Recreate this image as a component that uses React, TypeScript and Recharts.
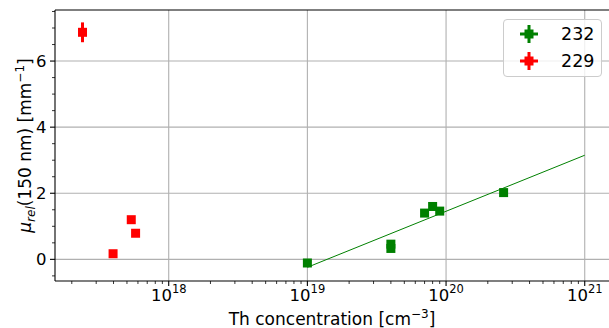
import React from "react"
import {
  ScatterChart,
  Scatter,
  XAxis,
  YAxis,
  ErrorBar,
  ReferenceLine,
} from "recharts"

// Th-232 doped samples
const th232Conc = [1e19, 4e19, 4e19, 7e19, 8e19, 9e19, 2.6e20]
const th232Mu = [-0.11, 0.33, 0.46, 1.4, 1.6, 1.46, 2.02]
const th232Err = [0.05, 0.05, 0.05, 0.05, 0.05, 0.05, 0.05]

// Th-229 doped samples
const th229Conc = [2.39e17, 3.97e17, 5.37e17, 5.77e17]
const th229Mu = [6.87, 0.17, 1.2, 0.79]
const th229Err = [0.3, 0.05, 0.05, 0.05]

// linear fit to 232 data
const fitConc = [1e19, 1e21]
const fitMu = [-0.24, 3.15]

const xMajorTicks = [1e18, 1e19, 1e20, 1e21]
const xTickExponents = ["18", "19", "20", "21"]
const yMajorTicks = [0, 2, 4, 6]
const yMinorTicks = [-0.5, 0.5, 1, 1.5, 2.5, 3, 3.5, 4.5, 5, 5.5, 6.5, 7, 7.5]

const xDomain = [Math.pow(10, 17.18), Math.pow(10, 21.175)]
const yDomain = [-0.655, 7.545]

const xMinorTicks: number[] = []
for (let e = 17; e <= 21; e++) {
  for (let m = 2; m <= 9; m++) {
    const v = m * Math.pow(10, e)
    if (v > xDomain[0] && v < xDomain[1]) xMinorTicks.push(v)
  }
}

const GREEN = "#008000"
const RED = "#ff0000"
const GRID = "#b0b0b0"
const FONT = "DejaVu Sans"

const zip = (xs: number[], ys: number[], es?: number[]) =>
  xs.map((x, i) => ({ x, y: ys[i], err: es ? es[i] : 0 }))

const data232 = zip(th232Conc, th232Mu, th232Err)
const data229 = zip(th229Conc, th229Mu, th229Err)
const fitData = zip(fitConc, fitMu)

const square = (color: string) => (props: any) => (
  <rect x={props.cx - 4.5} y={props.cy - 4.5} width={9} height={9} fill={color} />
)

const XTick = (props: any) => {
  const { x, y, payload } = props
  const i = xMajorTicks.indexOf(payload.value)
  const major = i >= 0
  return (
    <g>
      <line x1={x} x2={x} y1={y} y2={y + (major ? 5 : 3)} stroke="#000" strokeWidth={major ? 1.1 : 0.8} />
      {major && (
        <text x={x} y={y + 19.7} textAnchor="middle" fontSize={16.5} fontFamily={FONT} fill="#000">
          <tspan>10</tspan>
          <tspan dy={-8} fontSize={11.5}>{xTickExponents[i]}</tspan>
        </text>
      )}
    </g>
  )
}

const YTick = (props: any) => {
  const { x, y, payload } = props
  const major = yMajorTicks.includes(payload.value)
  return (
    <g>
      <line x1={x - (major ? 5 : 3)} x2={x} y1={y} y2={y} stroke="#000" strokeWidth={major ? 1.1 : 0.8} />
      {major && (
        <text x={x - 8.5} y={y + 5.8} textAnchor="end" fontSize={16.5} fontFamily={FONT} fill="#000">
          {payload.value}
        </text>
      )}
    </g>
  )
}

const XLabel = (props: any) => {
  const vb = props.viewBox
  return (
    <text x={vb.x + vb.width / 2} y={vb.y + 43.5} textAnchor="middle" fontSize={17} fontFamily={FONT} fill="#000">
      <tspan>Th concentration [cm</tspan>
      <tspan dy={-7} fontSize={12}>−3</tspan>
      <tspan dy={7}>]</tspan>
    </text>
  )
}

const YLabel = (props: any) => {
  const vb = props.viewBox
  const cx = 31
  const cy = vb.y + vb.height / 2
  return (
    <text x={cx} y={cy} transform={`rotate(-90, ${cx}, ${cy})`} textAnchor="middle" fontSize={17} fontFamily={FONT} fill="#000">
      <tspan fontStyle="italic">μ</tspan>
      <tspan fontStyle="italic" fontSize={12} dy={4}>rel</tspan>
      <tspan dy={-4}>(150 nm) [mm</tspan>
      <tspan dy={-7} fontSize={12}>−1</tspan>
      <tspan dy={7}>]</tspan>
    </text>
  )
}

const Cross = ({ color }: { color: string }) => (
  <svg width={20} height={20} style={{ display: "block" }}>
    <line x1={1} x2={19} y1={10} y2={10} stroke={color} strokeWidth={3} />
    <line x1={10} x2={10} y1={1} y2={19} stroke={color} strokeWidth={3} />
    <rect x={5.5} y={5.5} width={9} height={9} fill={color} />
  </svg>
)

const legendItems = [
  { name: "232", color: GREEN },
  { name: "229", color: RED },
]

export default function App() {
  return (
    <div style={{ position: "absolute", left: 0, top: 0, width: 609, height: 328, fontFamily: FONT, background: "#fff" }}>
      <ScatterChart width={609} height={328} margin={{ top: 10, right: 0, bottom: 0, left: 0 }}>
        <XAxis
          dataKey="x"
          type="number"
          scale="log"
          domain={xDomain}
          allowDataOverflow
          ticks={[...xMajorTicks, ...xMinorTicks]}
          interval={0}
          tick={<XTick />}
          tickLine={false}
          tickSize={0}
          tickMargin={0}
          height={47}
          axisLine={{ stroke: "#000", strokeWidth: 1.1 }}
          label={{ content: <XLabel /> }}
        />
        <YAxis
          dataKey="y"
          type="number"
          domain={yDomain}
          allowDataOverflow
          ticks={[...yMajorTicks, ...yMinorTicks]}
          interval={0}
          tick={<YTick />}
          tickLine={false}
          tickSize={0}
          tickMargin={0}
          width={55}
          axisLine={{ stroke: "#000", strokeWidth: 1.1 }}
          label={{ content: <YLabel /> }}
        />
        {xMajorTicks.map((v) => (
          <ReferenceLine key={"gx" + v} x={v} stroke={GRID} strokeWidth={1.1} />
        ))}
        {yMajorTicks.map((v) => (
          <ReferenceLine key={"gy" + v} y={v} stroke={GRID} strokeWidth={1.1} />
        ))}
        <ReferenceLine y={yDomain[1]} stroke="#000" strokeWidth={1.1} />
        <Scatter
          name="fit"
          data={fitData}
          line={{ stroke: GREEN, strokeWidth: 1 }}
          shape={() => <g />}
          isAnimationActive={false}
        />
        <Scatter name="232" data={data232} shape={square(GREEN)} isAnimationActive={false}>
          <ErrorBar dataKey="err" direction="y" width={0} stroke={GREEN} strokeWidth={3} />
        </Scatter>
        <Scatter name="229" data={data229} shape={square(RED)} isAnimationActive={false}>
          <ErrorBar dataKey="err" direction="y" width={0} stroke={RED} strokeWidth={3} />
        </Scatter>
      </ScatterChart>
      <div
        style={{
          position: "absolute",
          left: 503,
          top: 19,
          width: 97,
          height: 56,
          border: "1px solid #cccccc",
          borderRadius: 4,
          background: "rgba(255,255,255,0.8)",
          boxSizing: "content-box",
        }}
      >
        {legendItems.map((it, i) => (
          <div key={it.name} style={{ position: "absolute", left: 15, top: 4 + i * 27, height: 20, display: "flex", alignItems: "center" }}>
            <Cross color={it.color} />
            <span style={{ marginLeft: 22, fontSize: 17.5, lineHeight: "20px", color: "#000" }}>{it.name}</span>
          </div>
        ))}
      </div>
    </div>
  )
}
